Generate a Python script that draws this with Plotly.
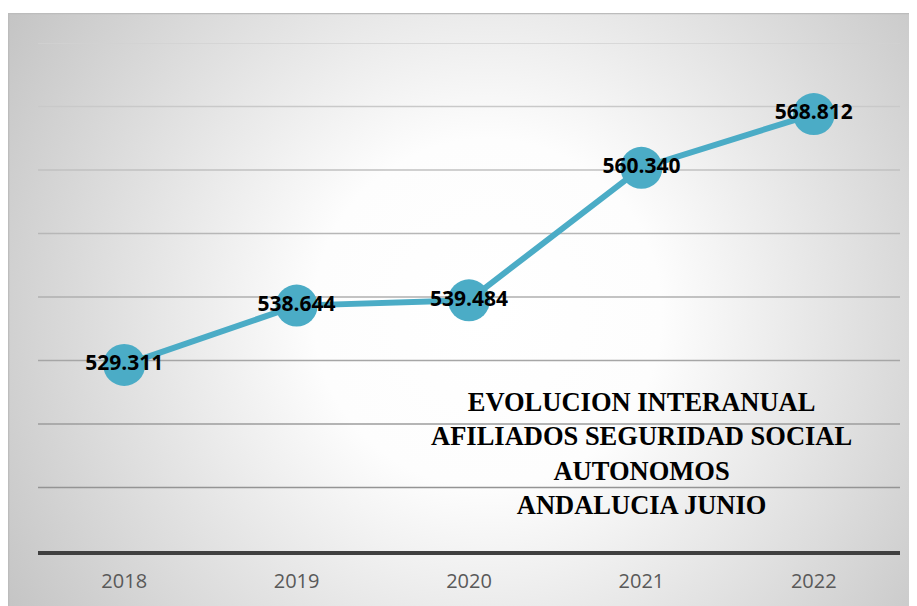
import base64
import plotly.graph_objects as go

# ---- data ----
years = ["2018", "2019", "2020", "2021", "2022"]
afiliados = [529311, 538644, 539484, 560340, 568812]
title_lines = ["EVOLUCION INTERANUAL", "AFILIADOS SEGURIDAD SOCIAL", "AUTONOMOS", "ANDALUCIA JUNIO"]
y_min, y_max, y_step = 500000, 580000, 10000

# figure geometry (page body adds an 8px offset)
W, H = 909, 598
L, T = 30, 35
PLOT_W = 862.5
AXIS_Y = 543
PLOT_H = AXIS_Y - T

# ---- background gradient (SVG data URI) ----
svg = """<svg xmlns='http://www.w3.org/2000/svg' width='909' height='593'>
<defs><radialGradient id='g' gradientUnits='userSpaceOnUse' cx='480' cy='300' r='580'>
<stop offset='0' stop-color='#ffffff'/><stop offset='0.3' stop-color='#fdfdfd'/>
<stop offset='1' stop-color='#c2c2c2'/></radialGradient></defs>
<rect x='0' y='0' width='909' height='593' fill='url(#g)'/>
<rect x='0.5' y='0.5' width='912' height='596' fill='none' stroke='#bcbcbc' stroke-width='1.5'/>
</svg>"""
svg_uri = "data:image/svg+xml;base64," + base64.b64encode(svg.encode()).decode()

x_idx = list(range(len(years)))

fig = go.Figure()
fig.add_trace(go.Scatter(
    x=x_idx, y=afiliados,
    mode="lines+markers+text",
    line=dict(color="#4BACC6", width=6),
    marker=dict(color="#4BACC6", size=42),
    texttemplate="%{y:,}",
    textposition="middle center",
    textfont=dict(family="Open Sans", size=21, color="#000000", weight="bold"),
    cliponaxis=False,
    hoverinfo="skip",
))

# gridlines as shapes (lighter at top, darker at bottom)
n_grid = int((y_max - y_min) / y_step)
shapes = []
for i in range(1, n_grid + 1):
    v = y_min + i * y_step
    t = (v - y_min) / (y_max - y_min)
    c = int(0x8c + (0xd2 - 0x8c) * t)
    shapes.append(dict(type="line", xref="paper", yref="y", x0=0, x1=1, y0=v, y1=v,
                       line=dict(color=f"rgb({c},{c},{c})", width=1.6), layer="below"))

fig.update_layout(
    width=W, height=H,
    margin=dict(l=L, r=W - L - PLOT_W, t=T, b=H - AXIS_Y, pad=0),
    paper_bgcolor="#ffffff",
    plot_bgcolor="rgba(0,0,0,0)",
    separators=",.",
    showlegend=False,
    shapes=shapes,
    images=[dict(source=svg_uri, xref="paper", yref="paper",
                 x=(0 - L) / PLOT_W, y=(AXIS_Y - 5) / PLOT_H,
                 sizex=W / PLOT_W, sizey=(H - 5) / PLOT_H,
                 xanchor="left", yanchor="top", sizing="stretch", layer="below")],
    xaxis=dict(
        range=[-0.5, len(years) - 0.5],
        tickmode="array", tickvals=x_idx, ticktext=years,
        showgrid=False, zeroline=False,
        showline=True, linecolor="#404040", linewidth=4,
        ticks="outside", ticklen=9, tickcolor="rgba(0,0,0,0)",
        tickfont=dict(family="Open Sans", size=20, color="#595959"),
        fixedrange=True,
    ),
    yaxis=dict(
        range=[y_min, y_max], showgrid=False, zeroline=False,
        showticklabels=False, showline=False, fixedrange=True,
    ),
    annotations=[dict(
        text="<br>".join(title_lines),
        xref="x", yref="paper", x=3, y=(AXIS_Y - 445.5) / PLOT_H,
        xanchor="center", yanchor="middle", showarrow=False,
        font=dict(family="Liberation Serif", size=26.5, color="#000000", weight="bold"),
    )],
)

fig.write_html("out.html")
